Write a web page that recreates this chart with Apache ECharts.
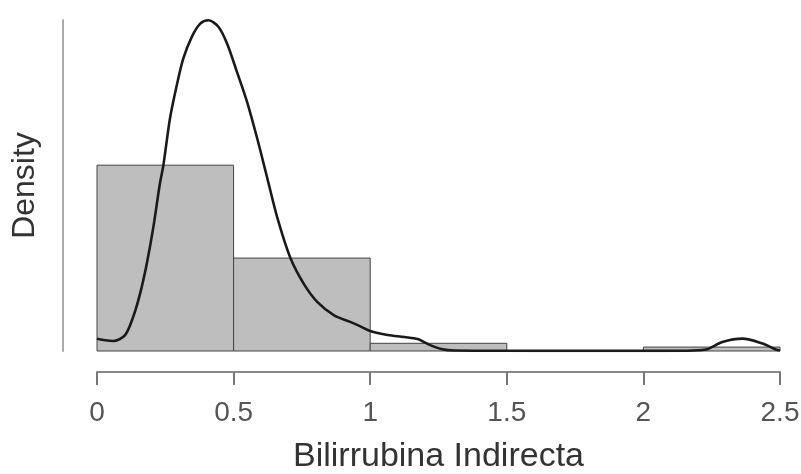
<!DOCTYPE html>
<html>
<head>
<meta charset="utf-8">
<script src="https://cdn.jsdelivr.net/npm/echarts@6/dist/echarts.min.js"></script>
<style>
html,body{margin:0;padding:0;background:#fff;}
#c{width:801px;height:474px;}
</style>
</head>
<body>
<div id="c"></div>
<script>
// Histogram bins (Bilirrubina Indirecta) and their densities
var binStarts = [0, 0.5, 1.0, 1.5, 2.0];
var binEnds   = [0.5, 1.0, 1.5, 2.0, 2.5];
var binDensity = [1.28, 0.64, 0.053, 0, 0.027];

// Kernel density curve
var kdeX = [0, 0.03, 0.059, 0.102, 0.132, 0.157, 0.182, 0.206, 0.230, 0.243, 0.267, 0.292, 0.316, 0.347, 0.378, 0.408, 0.445, 0.476, 0.512, 0.549, 0.586, 0.623, 0.660, 0.708, 0.757, 0.807, 0.868, 0.929, 0.964, 1.0, 1.064, 1.125, 1.174, 1.211, 1.26, 1.31, 1.4, 1.6, 1.8, 2.0, 2.15, 2.228, 2.289, 2.363, 2.436, 2.485, 2.5];
var kdeY = [0.085, 0.074, 0.069, 0.108, 0.233, 0.39, 0.60, 0.85, 1.15, 1.28, 1.60, 1.83, 2.015, 2.164, 2.255, 2.278, 2.232, 2.118, 1.924, 1.718, 1.467, 1.193, 0.918, 0.64, 0.462, 0.336, 0.245, 0.199, 0.17, 0.137, 0.11, 0.096, 0.082, 0.048, 0.014, 0.003, 0.002, 0.001, 0.001, 0.001, 0.002, 0.01, 0.062, 0.085, 0.051, 0.01, 0.004];

var xTicks = [0, 0.5, 1, 1.5, 2, 2.5];
var xTitle = 'Bilirrubina Indirecta';
var yTitle = 'Density';

var histData = binStarts.map(function(s, i){ return [s, binEnds[i], binDensity[i]]; });
var kdeData = kdeX.map(function(x, i){ return [x, kdeY[i]]; });

var chart = echarts.init(document.getElementById('c'), null, {renderer:'canvas'});
var font = 'Liberation Sans, Arial, Helvetica, sans-serif';
chart.setOption({
  animation: false,
  backgroundColor: '#fff',
  grid: {left: 97, right: 21, top: 20, bottom: 123, containLabel: false, outerBoundsMode: 'none'},
  xAxis: {
    type: 'value', min: 0, max: 2.5, interval: 0.5,
    offset: 21,
    name: xTitle, nameLocation: 'middle', nameGap: 68,
    nameTextStyle: {fontFamily: font, fontSize: 34, color: '#333'},
    axisLine: {show: true, onZero: false, lineStyle: {color: '#888', width: 2}},
    axisTick: {show: true, length: 13, lineStyle: {color: '#777', width: 2}},
    axisLabel: {fontFamily: font, fontSize: 28, color: '#555', margin: 27,
      formatter: function(v){ return xTicks.indexOf(v) >= 0 ? String(v) : ''; }},
    splitLine: {show: false}
  },
  yAxis: {
    type: 'value', min: 0, max: 2.28,
    offset: 34,
    name: yTitle, nameLocation: 'middle', nameGap: 22,
    nameTextStyle: {fontFamily: font, fontSize: 32, color: '#333'},
    axisLine: {show: true, onZero: false, lineStyle: {color: '#aaa', width: 2}},
    axisTick: {show: false},
    axisLabel: {show: false},
    splitLine: {show: false}
  },
  series: [
    {
      type: 'custom',
      data: histData,
      encode: {x: [0, 1], y: 2},
      clip: false,
      z: 2,
      renderItem: function(params, api){
        var x0 = api.value(0), x1 = api.value(1), h = api.value(2);
        var p0 = api.coord([x0, 0]);
        var p1 = api.coord([x1, h]);
        return {
          type: 'rect',
          shape: {x: p0[0], y: p1[1], width: p1[0] - p0[0], height: p0[1] - p1[1]},
          style: {fill: '#bebebe', stroke: '#444', lineWidth: 1}
        };
      }
    },
    {
      type: 'line',
      data: kdeData,
      smooth: 0.3,
      showSymbol: false,
      symbol: 'none',
      z: 5,
      lineStyle: {color: '#1a1a1a', width: 2.6}
    }
  ]
});
</script>
</body>
</html>
